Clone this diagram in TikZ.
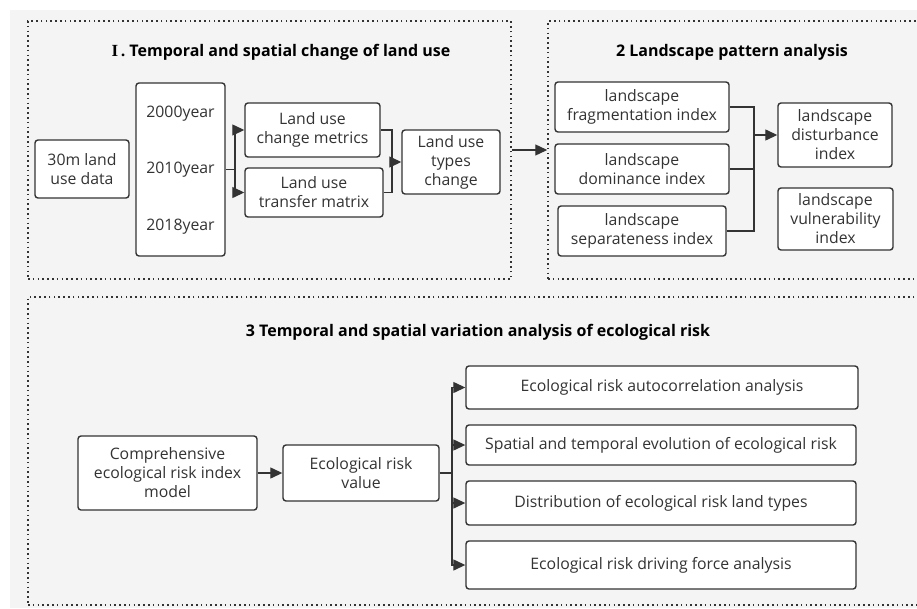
\documentclass[tikz,border=0pt]{standalone}
\usepackage{fontspec}
\setmainfont{Open Sans}
\newfontfamily\romfont{Liberation Serif}
\usetikzlibrary{arrows.meta}
\definecolor{bgc}{HTML}{F4F4F4}
\definecolor{ink}{HTML}{333333}
\tikzset{
  boxfont/.style={font=\fontsize{15.8}{19}\selectfont},
  box/.style={draw=ink, line width=1.4pt, rounded corners=3pt, fill=white, align=center,
    text=ink, boxfont, inner sep=0pt},
  frame/.style={draw=ink, line width=1.5pt, dash pattern=on 1.6pt off 3.2pt, inner sep=0pt},
  ttl/.style={text=black, font=\bfseries\fontsize{16}{19}\selectfont},
  conn/.style={draw=ink, line width=1.3pt},
  arr/.style={conn, -{Triangle[length=12pt,width=11pt]}},
}
\begin{document}
\begin{tikzpicture}[x=1pt,y=-1pt]
\useasboundingbox (0,0) rectangle (917,608);
\fill[white] (0,0) rectangle (917,608);
\fill[bgc] (10,10) rectangle (917,608);

% frames
\node[frame, minimum width=483, minimum height=258] (f1) at (269.5,150) {};
\node[frame, minimum width=374, minimum height=258] (f2) at (735,150) {};
\node[frame, minimum width=894, minimum height=308] (f3) at (475,451) {};

% titles
\node[ttl] (t1) at (281,52) {{\romfont\bfseries\fontsize{17}{19}\selectfont I}\hspace{2.5pt}. Temporal and spatial change of land use};
\node[ttl] (t2) at (732,52) {2 Landscape pattern analysis};
\node[ttl] (t3) at (478,332) {3 Temporal and spatial variation analysis of ecological risk};

% section 1
\node[box, minimum width=94, minimum height=58] (data) at (82,169) {30m land\\use data};
\node[box, minimum width=89, minimum height=173] (years) at (180.5,169.5) {};
\node[text=ink, boxfont] (y1) at (180.5,114) {2000year};
\node[text=ink, boxfont] (y2) at (180.5,170) {2010year};
\node[text=ink, boxfont] (y3) at (180.5,227) {2018year};
\node[box, minimum width=135, minimum height=54] (metrics) at (312.5,130) {Land use\\change metrics};
\node[box, minimum width=138, minimum height=49] (transfer) at (314,192.5) {Land use\\transfer matrix};
\node[box, minimum width=98, minimum height=64] (types) at (451,162) {Land use\\types\\change};

\coordinate (j1) at (235,169.5);
\draw[conn] (years.east) -- (j1);
\draw[arr] (j1) |- (metrics.west);
\draw[arr] (j1) |- (transfer.west);
\coordinate (j2) at (392,162);
\draw[conn] (metrics.east) -| (j2);
\draw[conn] (transfer.east) -| (j2);
\draw[arr] (j2) -- (types.west);

\draw[arr] (f1.east) -- (f2.west);

% section 2
\node[box, minimum width=174, minimum height=50] (frag) at (642,107) {landscape\\fragmentation index};
\node[box, minimum width=174, minimum height=50] (dom) at (642,169) {landscape\\dominance index};
\node[box, minimum width=168, minimum height=50] (sep) at (642,231) {landscape\\separateness index};
\node[box, minimum width=114, minimum height=64] (dist) at (835,135) {landscape\\disturbance\\index};
\node[box, minimum width=115, minimum height=62] (vul) at (835.5,219) {landscape\\vulnerability\\index};

\coordinate (j3) at (754,135);
\draw[conn] (frag.east) -| (j3);
\draw[conn] (sep.east) -| (j3);
\draw[conn] (dom.east) -- (dom.east -| j3);
\draw[arr] (j3) -- (dist.west);

% section 3
\node[box, minimum width=179, minimum height=74] (comp) at (167.5,473) {Comprehensive\\ecological risk index\\model};
\node[box, minimum width=156, minimum height=56] (erv) at (361,473) {Ecological risk\\value};
\node[box, minimum width=392, minimum height=43] (auto) at (662,387.5) {Ecological risk autocorrelation analysis};
\node[box, minimum width=390, minimum height=40] (spat) at (661,445) {Spatial and temporal evolution of ecological risk};
\node[box, minimum width=390, minimum height=44] (distr) at (661,503) {Distribution of ecological risk land types};
\node[box, minimum width=390, minimum height=48] (drive) at (661,565) {Ecological risk driving force analysis};

\draw[arr] (comp.east) -- (erv.west);
\coordinate (j4) at (452,473);
\draw[conn] (erv.east) -- (j4);
\draw[arr] (j4) |- (auto.west);
\draw[arr] (j4) |- (spat.west);
\draw[arr] (j4) |- (distr.west);
\draw[arr] (j4) |- (drive.west);
\end{tikzpicture}
\end{document}
